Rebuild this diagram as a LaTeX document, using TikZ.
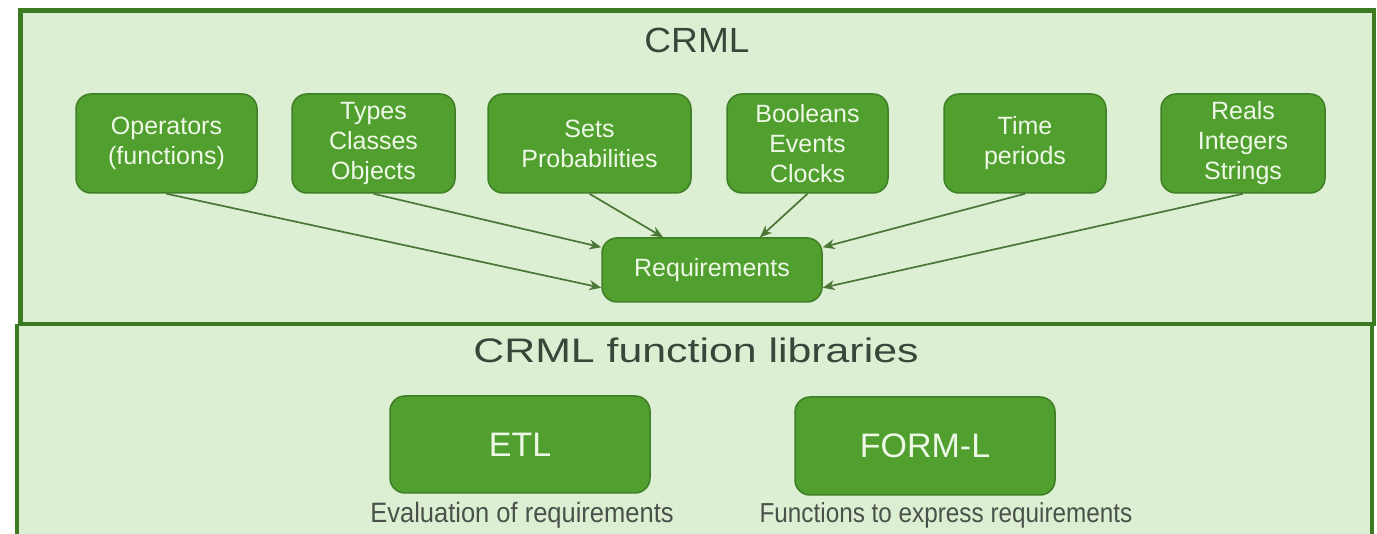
\documentclass[tikz,border=0pt]{standalone}
\usepackage{fontspec}
\setmainfont{Liberation Sans}
\usetikzlibrary{arrows.meta,calc}
\definecolor{bgpanel}{HTML}{DCEFD2}
\definecolor{frame}{HTML}{3D7B22}
\definecolor{boxfill}{HTML}{519F2F}
\definecolor{boxline}{HTML}{3E7E24}
\definecolor{boxtext}{HTML}{EEF8E6}
\definecolor{titletext}{HTML}{3B463B}
\definecolor{captext}{HTML}{4A514A}
\definecolor{linkcol}{HTML}{4A7636}
\begin{document}
\begin{tikzpicture}[x=1pt,y=-1pt,
  item/.style={draw=boxline, line width=1.5pt, fill=boxfill, rounded corners=15pt,
    text=boxtext, align=center, font=\fontsize{25}{30}\selectfont, inner sep=0pt},
  lib/.style={item, font=\fontsize{34}{40}\selectfont},
  link/.style={draw=linkcol, line width=1.7pt, -{Stealth[length=12pt,width=10pt]}},
  heading/.style={text=titletext, inner sep=0pt, anchor=base},
  caption/.style={text=captext, inner sep=0pt, anchor=base}
]
\useasboundingbox (0,0) rectangle (1377,534);
\fill[white] (0,0) rectangle (1377,534);

% lower panel (open at the bottom)
\fill[bgpanel] (17,324) rectangle (1372,540);
\draw[frame, line width=4.5pt] (17,545) -- (17,324);
\draw[frame, line width=4.5pt] (1372,545) -- (1372,324);
% upper panel
\draw[frame, fill=bgpanel, line width=4.5pt] (20.5,10.5) rectangle (1374,324);

% titles
\node[heading] (t1) at (697,53) {\fontsize{35}{40}\selectfont\scalebox{1.06}[1]{CRML}};
\node[heading] (t2) at (696,363) {\fontsize{34}{40}\selectfont\scalebox{1.26}[1]{CRML function libraries}};

% concept boxes
\node[item, minimum width=181pt, minimum height=99pt] (op)  at (166.5,143.5) {Operators\\(functions)};
\node[item, minimum width=163pt, minimum height=99pt] (tco) at (373.5,143.5) {Types\\Classes\\Objects};
\node[item, minimum width=203pt, minimum height=99pt] (sp)  at (589.5,143.5) {Sets\\Probabilities};
\node[item, minimum width=161pt, minimum height=99pt] (bec) at (807.5,143.5) {Booleans\\Events\\Clocks};
\node[item, minimum width=162pt, minimum height=99pt] (tp)  at (1025,143.5) {Time\\periods};
\node[item, minimum width=164pt, minimum height=99pt] (ris) at (1243,143.5) {Reals\\Integers\\Strings};

\node[item, minimum width=220pt, minimum height=64pt] (req) at (712,270) {Requirements};

% connectors
\draw[link] (op.south)  -- ([yshift=15pt]req.south west);
\draw[link] (tco.south) -- ([yshift=-10pt]req.north west);
\draw[link] (sp.south)  -- ([xshift=-49pt]req.north);
\draw[link] (bec.south) -- ([xshift=48pt]req.north);
\draw[link] (tp.south)  -- ([yshift=-10pt]req.north east);
\draw[link] (ris.south) -- ([yshift=15pt]req.south east);

% libraries
\node[lib, minimum width=260pt, minimum height=97pt] (etl)   at (520,444.5) {ETL};
\node[lib, minimum width=260pt, minimum height=98pt] (forml) at (925,446) {FORM-L};
\node[caption] (etlcap)   at (522,522) {\fontsize{25.5}{30}\selectfont\scalebox{1}[1.1]{Evaluation of requirements}};
\node[caption] (formlcap) at (946,522) {\fontsize{24.3}{30}\selectfont\scalebox{1}[1.13]{Functions to express requirements}};
\end{tikzpicture}
\end{document}
